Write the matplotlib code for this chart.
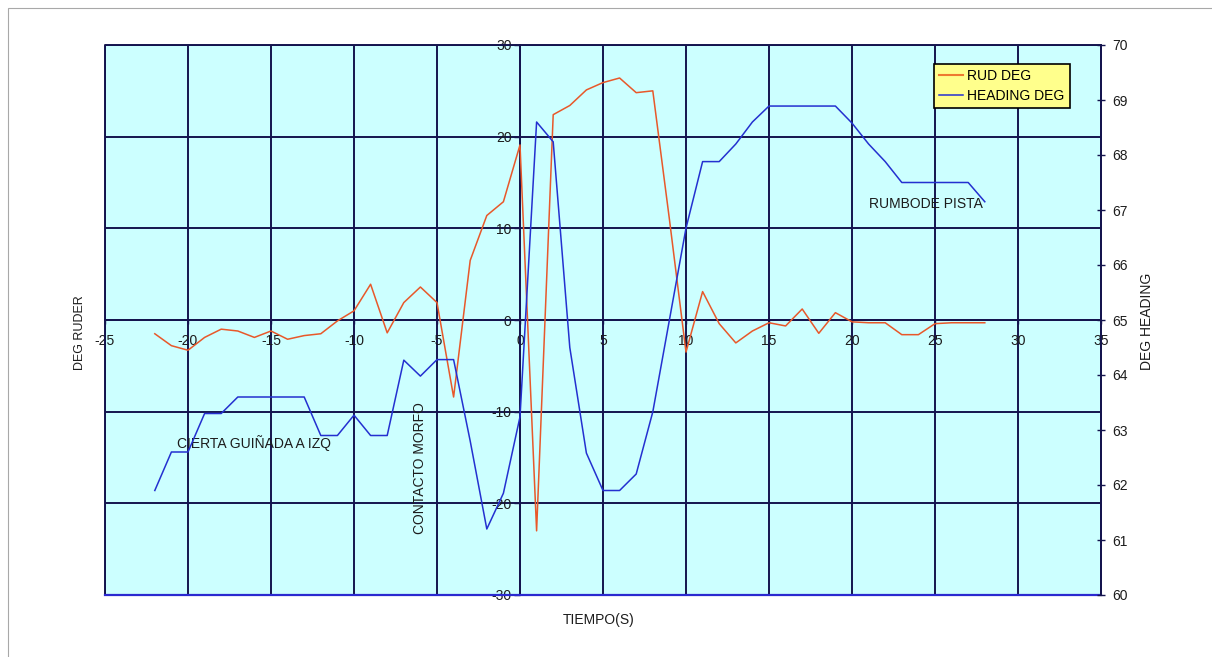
import matplotlib
matplotlib.use("Agg")
import matplotlib.pyplot as plt
from matplotlib.lines import Line2D
from matplotlib.patches import Rectangle

plt.rcParams['font.family'] = ['Liberation Sans', 'DejaVu Sans']
plt.rcParams['axes.unicode_minus'] = False

# Time axis (seconds relative to nose-wheel contact)
tiempo = list(range(-22, 29))

# Rudder deflection, degrees (left axis)
rud_deg = [-1.5, -2.8, -3.3, -1.9, -1.0, -1.2, -1.9, -1.2, -2.1, -1.7,
           -1.5, -0.1, 1.0, 3.9, -1.4, 1.9, 3.6, 1.9, -8.4, 6.5,
           11.4, 12.9, 19.1, -23.0, 22.4, 23.4, 25.1, 25.9, 26.4, 24.8,
           25.0, 11.0, -3.5, 3.1, -0.4, -2.5, -1.2, -0.3, -0.65, 1.2,
           -1.45, 0.8, -0.2, -0.3, -0.3, -1.6, -1.6, -0.4, -0.3, -0.3,
           -0.3]

# Aircraft heading, degrees (right axis)
heading_deg = [61.9, 62.6, 62.6, 63.3, 63.3, 63.6, 63.6, 63.6, 63.6, 63.6,
               62.9, 62.9, 63.27, 62.9, 62.9, 64.27, 63.98, 64.28, 64.28, 62.8,
               61.2, 61.85, 63.24, 68.6, 68.24, 64.5, 62.58, 61.9, 61.9, 62.2,
               63.33, 65.0, 66.67, 67.88, 67.88, 68.2, 68.6, 68.89, 68.89, 68.89,
               68.89, 68.89, 68.58, 68.2, 67.88, 67.5, 67.5, 67.5, 67.5, 67.5,
               67.15]

x_ticks = list(range(-25, 36, 5))
rud_ticks = list(range(-30, 31, 10))
heading_ticks = list(range(60, 71))

NAVY = '#14144e'
TXT = '#1c1c1c'
RUD_COLOR = '#e8582a'
HDG_COLOR = '#2430d0'

fig = plt.figure(figsize=(12.12, 6.57), dpi=100)
fig.patch.set_facecolor('white')
fig.patches.append(Rectangle((8 / 1212, -0.05), 1.2, 1 - 8 / 657 + 0.05,
                             transform=fig.transFigure, fill=False,
                             edgecolor='#a8a8a8', linewidth=0.8))

ax = fig.add_axes([105 / 1212, 62 / 657, 996 / 1212, 550 / 657])
ax.set_facecolor('#ccffff')
ax.set_xlim(-25, 35)
ax.set_ylim(-30, 30)
ax.set_xticks(x_ticks)
ax.set_yticks(rud_ticks)
ax.grid(True, color=NAVY, linewidth=1.4)
ax.set_axisbelow(True)

# axes cross at the origin
ax.spines['left'].set_position(('data', 0))
ax.spines['bottom'].set_position(('data', 0))
for s in ('left', 'bottom'):
    ax.spines[s].set_color(NAVY)
    ax.spines[s].set_linewidth(1.4)
ax.spines['top'].set_visible(False)
ax.spines['right'].set_visible(False)

ax.tick_params(axis='x', direction='out', length=3, width=1, color=NAVY,
               pad=7, labelsize=10, labelcolor=TXT)
ax.tick_params(axis='y', direction='out', length=4, width=1, color=NAVY,
               pad=2, labelsize=10, labelcolor=TXT)

# outer frame of the plotting area
ax.plot([0, 0, 1, 1], [0, 1, 1, 0], transform=ax.transAxes, color=NAVY,
        linewidth=1.4, clip_on=False, zorder=3)
ax.plot([0, 1], [0, 0], transform=ax.transAxes, color='#2a2ad0',
        linewidth=1.6, clip_on=False, zorder=3)

rud_line, = ax.plot(tiempo, rud_deg, color=RUD_COLOR, linewidth=1.1, zorder=4)

ax2 = ax.twinx()
ax2.set_ylim(60, 70)
ax2.set_yticks(heading_ticks)
for s in ('left', 'top', 'bottom'):
    ax2.spines[s].set_visible(False)
ax2.spines['right'].set_color(NAVY)
ax2.spines['right'].set_linewidth(1.4)
ax2.tick_params(axis='y', direction='inout', length=6, width=1, color=NAVY,
                pad=5, labelsize=10, labelcolor=TXT)
hdg_line, = ax2.plot(tiempo, heading_deg, color=HDG_COLOR, linewidth=1.1,
                     zorder=4)

# annotations
ax.text(-16.05, -13.4, 'CIERTA GUIÑADA A IZQ', fontsize=10, ha='center',
        va='center', color=TXT)
ax.text(-6.0, -16.1, 'CONTACTO MORFO', fontsize=10, ha='center',
        va='center', rotation=90, color=TXT)
ax.text(24.43, 12.7, 'RUMBODE PISTA', fontsize=10, ha='center',
        va='center', color=TXT)

# axis titles
fig.text(80 / 1212, 1 - 333 / 657, 'DEG RUDER', rotation=90, fontsize=9,
         ha='center', va='center', color=TXT)
fig.text(1147 / 1212, 1 - 321 / 657, 'DEG HEADING', rotation=90, fontsize=10,
         ha='center', va='center', color=TXT)
fig.text(599 / 1212, 1 - 620 / 657, 'TIEMPO(S)', fontsize=10,
         ha='center', va='center', color=TXT)

leg = ax2.legend([Line2D([], [], color='#ee7a30', linewidth=1.5),
                  Line2D([], [], color=HDG_COLOR, linewidth=1.1)],
                 ['RUD DEG', 'HEADING DEG'],
                 loc='upper left', bbox_to_anchor=((934 - 105) / 996, 1 - 19 / 550),
                 fontsize=10, frameon=True, fancybox=False, handlelength=1.7,
                 handletextpad=0.3, borderpad=0.38, labelspacing=0.42,
                 borderaxespad=0)
leg.get_frame().set_facecolor('#ffff8c')
leg.get_frame().set_edgecolor('black')
leg.get_frame().set_linewidth(1.2)
leg.get_frame().set_alpha(1)

fig.savefig('out.png', dpi=100)
